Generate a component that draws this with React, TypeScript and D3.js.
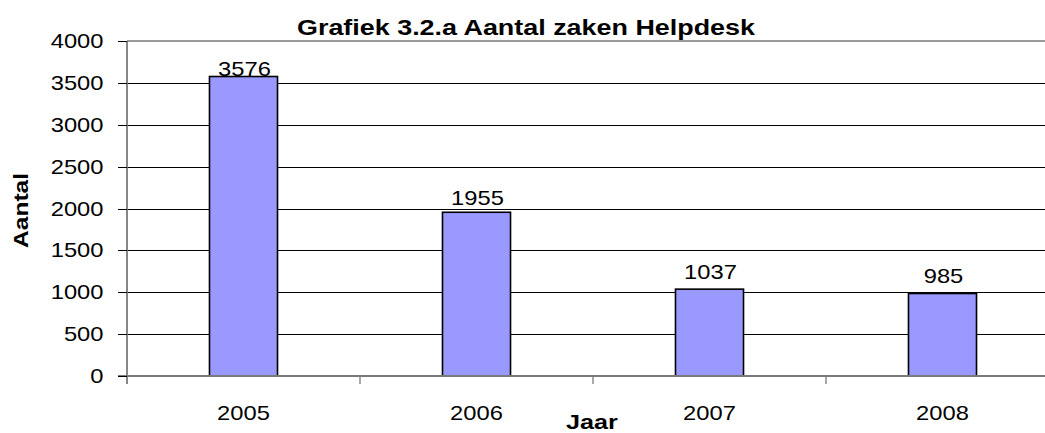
import React from "react";
import * as d3 from "d3";

const categories = ["2005", "2006", "2007", "2008"];
const values = [3576, 1955, 1037, 985];
const yTicks = [0, 500, 1000, 1500, 2000, 2500, 3000, 3500, 4000];
const title = "Grafiek 3.2.a Aantal zaken Helpdesk";
const xTitle = "Jaar";
const yTitle = "Aantal";

const W = 1045;
const H = 433;
const left = 127;
const right = 1059;
const top = 41;
const bottom = 376;
const font = "Arial, 'Liberation Sans', sans-serif";

export default function App() {
  const x = d3
    .scaleBand<string>()
    .domain(categories)
    .range([left, right])
    .paddingInner(0.708)
    .paddingOuter(0.354);
  const step = x.step();
  const y = d3.scaleLinear().domain([0, 4000]).range([bottom, top]);
  const yLabel = d3.scaleLinear().domain([0, 4000]).range([361.3, 42.1]);
  const fs = 21;
  const sx = 1.13;

  return (
    <svg
      width={W}
      height={H}
      style={{ position: "absolute", left: 0, top: 0, background: "#fff" }}
    >
      <rect x={0} y={0} width={W} height={H} fill="#fff" />
      {/* gridlines */}
      {yTicks
        .filter((t) => t > 0 && t < 4000)
        .map((t) => (
          <line
            key={"g" + t}
            x1={left}
            x2={W}
            y1={Math.round(y(t)) + 0.5}
            y2={Math.round(y(t)) + 0.5}
            stroke="#000"
            strokeWidth={1}
          />
        ))}
      {/* plot top border */}
      <line x1={left} x2={W} y1={y(4000)} y2={y(4000)} stroke="#9a9a9a" strokeWidth={2.2} />
      {/* bars */}
      {categories.map((c, i) => (
        <rect
          key={"b" + c}
          x={x(c)!}
          y={y(values[i])}
          width={x.bandwidth()}
          height={y(0) - y(values[i])}
          fill="#9999FF"
          stroke="#000"
          strokeWidth={1.6}
        />
      ))}
      {/* axes */}
      <line x1={left} x2={left} y1={top} y2={bottom + 8} stroke="#7a7a7a" strokeWidth={1.8} />
      <line x1={left - 9} x2={W} y1={bottom} y2={bottom} stroke="#7a7a7a" strokeWidth={1.8} />
      {yTicks.map((t) => (
        <line
          key={"yt" + t}
          x1={left - 9}
          x2={left}
          y1={Math.round(y(t)) + 0.5}
          y2={Math.round(y(t)) + 0.5}
          stroke="#000"
          strokeWidth={1}
        />
      ))}
      {categories.map((c, i) => {
        const xb = left + step * (i + 1);
        return xb < W ? (
          <line key={"xt" + c} x1={xb} x2={xb} y1={bottom} y2={bottom + 8} stroke="#7a7a7a" strokeWidth={1.3} />
        ) : null;
      })}
      {/* y tick labels */}
      {yTicks.map((t) => (
        <text
          key={"yl" + t}
          transform={`translate(103.5,${y(t) + 7}) scale(${sx},1)`}
          textAnchor="end"
          fontFamily={font}
          fontSize={fs}
          fill="#000"
        >
          {t}
        </text>
      ))}
      {/* x tick labels */}
      {categories.map((c) => (
        <text
          key={"xl" + c}
          transform={`translate(${x(c)! + x.bandwidth() / 2},419.5) scale(${sx},1)`}
          textAnchor="middle"
          fontFamily={font}
          fontSize={fs}
          fill="#000"
        >
          {c}
        </text>
      ))}
      {/* data labels */}
      {categories.map((c, i) => (
        <text
          key={"dl" + c}
          transform={`translate(${x(c)! + x.bandwidth() / 2 + 1},${yLabel(values[i])}) scale(${sx},1)`}
          textAnchor="middle"
          fontFamily={font}
          fontSize={fs}
          fill="#000"
        >
          {values[i]}
        </text>
      ))}
      {/* title */}
      <text
        x={297}
        y={34.5}
        fontFamily={font}
        fontSize={21.5}
        fontWeight="bold"
        textLength={458}
        lengthAdjust="spacingAndGlyphs"
        fill="#000"
      >
        {title}
      </text>
      {/* x title */}
      <text
        transform={`translate(566,429) scale(1.2,1)`}
        fontFamily={font}
        fontSize={21}
        fontWeight="bold"
        fill="#000"
      >
        {xTitle}
      </text>
      {/* y title */}
      <text
        transform={`translate(27.5,248) rotate(-90) scale(1.17,1)`}
        x={0}
        y={0}
        fontFamily={font}
        fontSize={21}
        fontWeight="bold"
        fill="#000"
      >
        {yTitle}
      </text>
    </svg>
  );
}
